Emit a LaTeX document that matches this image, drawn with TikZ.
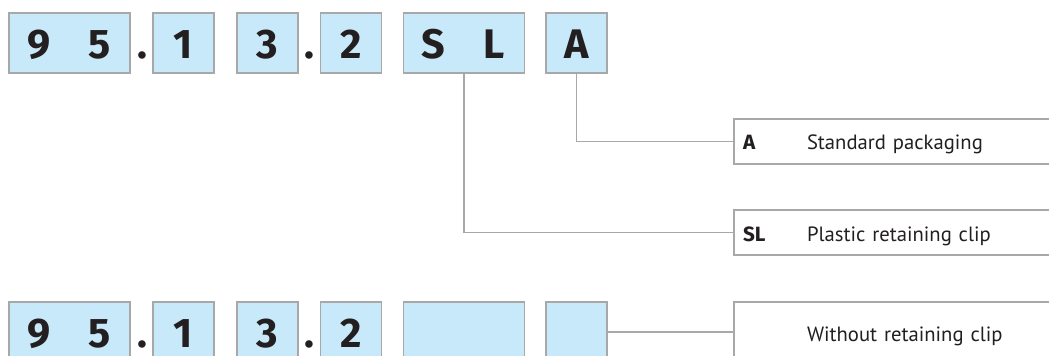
\documentclass[tikz,border=0pt]{standalone}
\usepackage{fontspec}
\setmainfont{PT Sans}
\newfontfamily\digfont{Fira Sans}
\definecolor{cellfill}{HTML}{C7E9F9}
\definecolor{edge}{HTML}{A8A8A8}
\definecolor{ink}{HTML}{231F20}
\newcommand\twodig[2]{\makebox[45.375pt]{#1}\makebox[45.375pt]{#2}}
\begin{document}
\begin{tikzpicture}[x=0.75pt,y=-0.75pt,
  cell/.style={draw=edge, fill=cellfill, line width=1.1pt, inner sep=0pt,
    minimum height=45pt, text height=23.25pt, text depth=0pt,
    font=\digfont\bfseries\fontsize{31}{32}\selectfont, text=ink},
  unit/.style={cell, minimum width=45.75pt},
  pair/.style={cell, minimum width=90.75pt},
  sep/.style={anchor=base, inner sep=0pt, text=ink, font=\digfont\bfseries\fontsize{31}{32}\selectfont},
  desc/.style={draw=edge, fill=white, line width=1.1pt, inner ysep=0pt, inner xsep=6.75pt,
    minimum width=252pt, text width=238.5pt, align=left, text=ink,
    text height=12.75pt, text depth=0pt, font=\fontsize{15.5}{17}\selectfont},
  conn/.style={draw=edge, line width=1.1pt}
]
\useasboundingbox (0,0) rectangle (1049,356);
\clip (0,0) rectangle (1049,356);
\fill[white] (0,0) rectangle (1049,356);
% top row
\node[pair] (t1) at (69.5,43) {\twodig{9}{5}};
\node[sep]  (tp1) at (142,58.5) {.};
\node[unit] (t2) at (183.5,43) {1};
\node[unit] (t3) at (267.5,43) {3};
\node[sep]  (tp2) at (309,58.5) {.};
\node[unit] (t4) at (351,43) {2};
\node[pair] (t5) at (464,43) {\twodig{S}{L}};
\node[unit] (t6) at (576.5,43) {A};
% bottom row
\node[pair] (b1) at (69.5,332) {\twodig{9}{5}};
\node[sep]  (bp1) at (142,347.5) {.};
\node[unit] (b2) at (183.5,332) {1};
\node[unit] (b3) at (267.5,332) {3};
\node[sep]  (bp2) at (309,347.5) {.};
\node[unit] (b4) at (351,332) {2};
\node[pair] (b5) at (464,332) {};
\node[unit] (b6) at (576.5,332) {};
% descriptions
\node[desc, minimum height=33.75pt] (dA) at (902,141.5) {\makebox[48pt][l]{\digfont\bfseries A}Standard packaging};
\node[desc, minimum height=33.75pt] (dSL) at (902,232.5) {\makebox[48pt][l]{\digfont\bfseries SL}Plastic retaining clip};
\node[desc, minimum height=45pt, text height=14.6pt] (dN) at (902,332) {\hspace*{48pt}Without retaining clip};
% connectors
\draw[conn] (t6.south) |- (dA.west);
\draw[conn] (t5.south) |- (dSL.west);
\draw[conn] (b6.east) -- (dN.west);
\end{tikzpicture}
\end{document}
